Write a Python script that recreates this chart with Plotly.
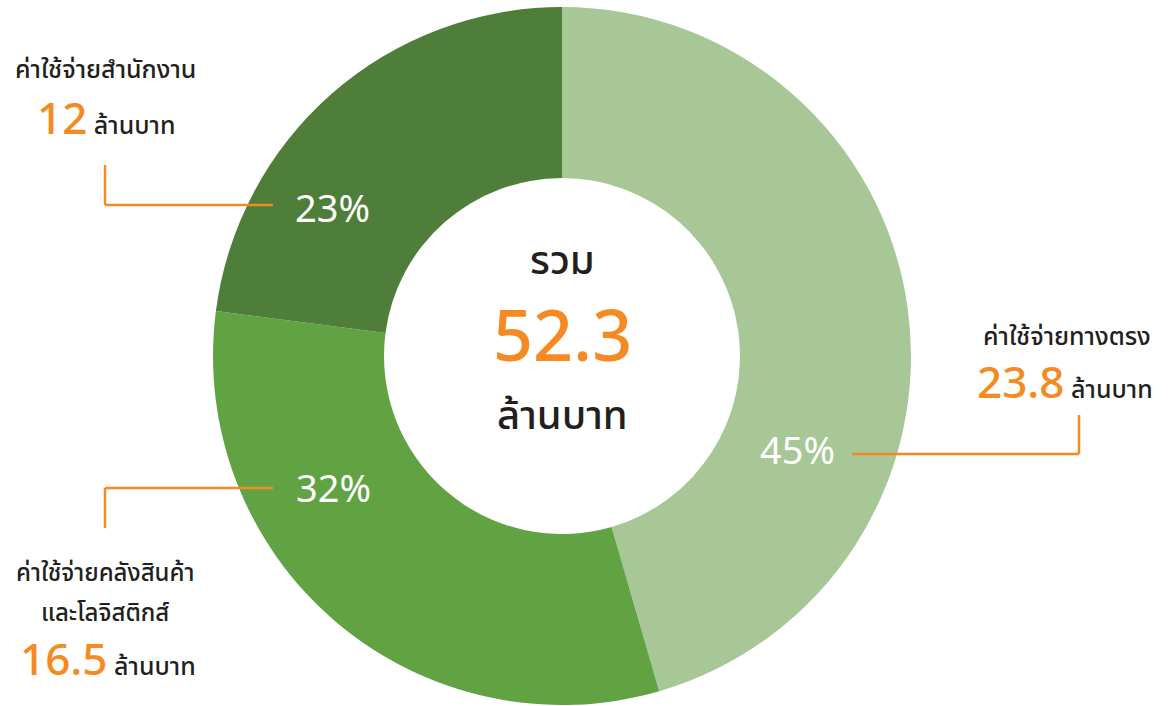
import plotly.graph_objects as go

categories = ["ค่าใช้จ่ายทางตรง", "ค่าใช้จ่ายคลังสินค้า<br>และโลจิสติกส์", "ค่าใช้จ่ายสำนักงาน"]
values = [23.8, 16.5, 12]
pct_labels = ["45%", "32%", "23%"]
unit = "ล้านบาท"
total_label = "รวม"

colors = ["#a7c796", "#61a243", "#4e7e39"]
orange = "#f58a23"
dark = "#231f20"
FONT = "'Noto Sans Thai', 'Noto Sans', sans-serif"

W, H = 1169, 706
cx, cy, R = 562, 356, 349

fig = go.Figure(go.Pie(
    labels=categories, values=values, sort=False, direction="clockwise", rotation=0,
    hole=0.51, marker=dict(colors=colors, line=dict(width=0)),
    textinfo="none", hoverinfo="label+value+percent", showlegend=False,
    domain=dict(x=[(cx - R) / W, (cx + R) / W], y=[(H - cy - R) / H, (H - cy + R) / H]),
))

def px(x):
    return x / W

def py(y):
    return 1 - y / H

ann = []
def add(text, x, y, size, color=dark, xanchor="center", weight=500):
    ann.append(dict(text=text, x=px(x), y=py(y), xref="paper", yref="paper", showarrow=False,
                    xanchor=xanchor, yanchor="middle",
                    font=dict(family=FONT, size=size, color=color, weight=weight)))

total = sum(values)
# center
add(total_label, 562, 262, 40)
add(f"{total:.1f}", 562, 340, 70, orange)
add(unit, 562, 417, 40)

# percent labels
add(pct_labels[0], 797, 452, 38, "white", weight=400)
add(pct_labels[1], 333, 490, 38, "white", weight=400)
add(pct_labels[2], 332, 210, 38, "white", weight=400)

def amount(v):
    s = f"{v:g}"
    return f"<span style='color:{orange};font-size:44px'>{s}</span> {unit}"

# right label
add(categories[0], 1153, 337, 25, xanchor="right")
add(amount(values[0]), 1155, 384, 25, xanchor="right")
# bottom-left label (two lines)
lines = categories[1].split("<br>")
add(lines[0], 105, 574, 24)
add(lines[1], 105, 614, 24)
add(amount(values[1]), 108, 661, 25)
# top-left label
add(categories[2], 105, 70, 25)
add(amount(values[2]), 106, 121, 25)

shapes = []
def seg(x0, y0, x1, y1):
    shapes.append(dict(type="line", xref="paper", yref="paper", x0=px(x0), y0=py(y0),
                       x1=px(x1), y1=py(y1), line=dict(color=orange, width=2.5)))

seg(105, 165, 105, 205); seg(105, 205, 273, 205)
seg(105, 488, 273, 488); seg(105, 488, 105, 528)
seg(852, 454, 1079, 454); seg(1079, 454, 1079, 415)

fig.update_layout(width=W, height=H, margin=dict(l=0, r=0, t=0, b=0),
                  paper_bgcolor="white", plot_bgcolor="white",
                  annotations=ann, shapes=shapes)
post = "document.body.style.margin='0';"
fig.write_html("out.html", post_script=post, config={"displayModeBar": False})
